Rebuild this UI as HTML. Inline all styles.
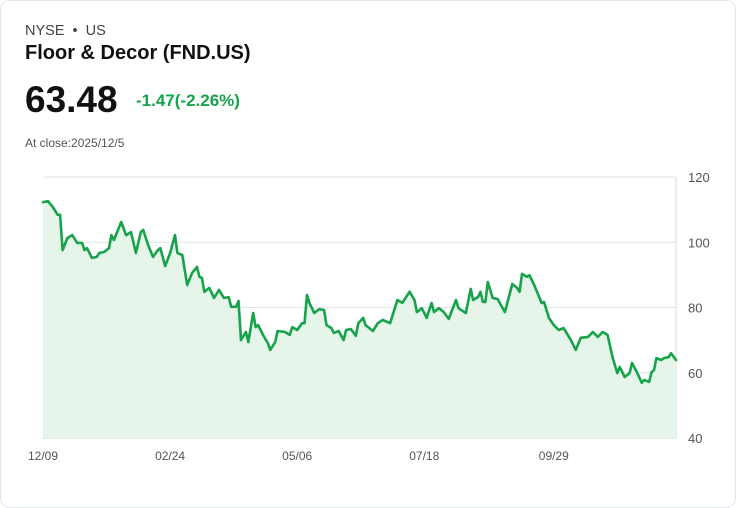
<!DOCTYPE html>
<html><head><meta charset="utf-8"><style>
body{margin:0;width:736px;height:508px;background:#fff;font-family:"Liberation Sans",sans-serif;}
.card{position:absolute;left:0;top:0;width:734px;height:506px;border:1px solid #e2e5ea;border-radius:10px;}
.t{position:absolute;white-space:nowrap;}
</style></head><body>
<div class="card"></div>
<div class="t" style="left:25px;top:23px;font-size:14.5px;color:#444">NYSE &nbsp;•&nbsp; US</div>
<div class="t" style="left:25px;top:42px;font-size:20px;font-weight:bold;color:#111">Floor &amp; Decor (FND.US)</div>
<div class="t" style="left:25px;top:79px;font-size:37px;font-weight:bold;color:#111">63.48</div>
<div class="t" style="left:136px;top:91px;font-size:17px;font-weight:bold;color:#16a34a">-1.47(-2.26%)</div>
<div class="t" style="left:25px;top:136px;font-size:12px;color:#555">At close:2025/12/5</div>
<svg id="chart" width="736" height="508" style="position:absolute;left:0;top:0"></svg>
<script>
const days=[0,2,4,6,7,8,10,12,14,16,17,18,20,22,23,25,27,28,29,32,34,36,38,40,41,43,45,47,48,50,52,54,55,57,59,61,63,64,65,66,68,70,72,74,76,77,79,80,81,83,84,86,87,88,90,92,93,95,96,99,101,102,104,106,107,108,109,111,113,115,116,118,119,121,123,124,126,128,129,131,132,133,135,137,139,142,145,147,150,152,153,155,157,159,160,162,164,166,169,170,173,175,176,178,179,180,181,182,184,186,189,192,194,195,196,198,199,201,204,205,207,209,211,213,216,218,220,223,225,227,229,231,233,235,236,238,240,241,243,245,246,248,249,250,251,253,254,256,257,259];
const prices=[112.3,112.6,110.8,108.4,108.4,97.6,101.3,102.2,99.8,99.8,97.6,98.2,95.2,95.5,96.7,97.0,98.2,102.2,100.7,106.2,102.2,103.1,96.7,103.1,103.8,99.2,95.5,97.6,98.2,92.7,96.7,102.2,96.7,96.1,86.9,90.6,92.4,89.4,89.1,84.8,86.0,82.9,85.4,82.9,83.2,80.2,80.2,82.0,70.0,72.5,69.4,78.3,74.0,74.6,71.6,69.1,67.0,69.4,72.8,72.5,71.6,74.0,73.1,75.2,75.2,83.8,81.4,78.3,79.5,79.2,74.6,73.7,72.2,72.8,70.0,73.1,73.4,71.3,75.2,76.8,74.6,74.0,72.8,75.2,76.2,75.2,82.3,81.4,84.8,82.3,78.6,79.8,76.8,81.4,78.6,79.8,78.6,76.5,82.3,79.8,78.3,85.7,82.3,83.2,84.8,81.7,81.7,87.8,82.9,82.6,78.6,87.2,86.0,84.8,90.3,89.4,89.9,86.9,81.4,81.7,76.8,74.6,73.1,73.7,70.0,67.0,70.7,71.0,72.5,71.0,72.5,71.6,64.8,59.9,61.8,58.7,59.9,63.0,60.2,56.9,57.8,57.2,60.2,60.8,64.5,63.9,64.5,64.8,66.0,63.9];
const yTicks=[40,60,80,100,120];
const xTickDays=[0,52,104,156,209];
const xTickLabels=["12/09","02/24","05/06","07/18","09/29"];
const X0=43,X1=676,Y0=438,Y1=177,DMAX=259,VMIN=40,VMAX=120;
const sx=d=>X0+(d/DMAX)*(X1-X0);
const sy=v=>Y0-(v-VMIN)/(VMAX-VMIN)*(Y0-Y1);
const svg=document.getElementById('chart');const NS='http://www.w3.org/2000/svg';
function mk(tag,attrs){const e=document.createElementNS(NS,tag);for(const k in attrs)e.setAttribute(k,attrs[k]);svg.appendChild(e);return e;}
yTicks.forEach(v=>{
 const l=mk('line',{x1:X0,x2:X1,y1:sy(v),y2:sy(v),stroke:v===40?'#d0d0d0':'#e4e4e4','stroke-width':1});
 
 
 const t=mk('text',{x:688,y:sy(v)+5,'font-size':13,fill:'#555','font-family':'Liberation Sans, sans-serif'});
 t.textContent=v;
 
 
});
const ax=mk('line',{x1:X1,x2:X1,y1:Y1,y2:Y0,stroke:'#d8d8d8','stroke-width':1});


xTickDays.forEach((d,i)=>{
 const t=mk('text',{x:sx(d),y:460,'font-size':12,fill:'#555','text-anchor':'middle','font-family':'Liberation Sans, sans-serif'});
 t.textContent=xTickLabels[i];
 
 
});
let pts=days.map((d,i)=>sx(d).toFixed(1)+','+sy(prices[i]).toFixed(1));
const area=mk('path',{d:'M'+sx(days[0])+','+Y0+' L'+pts.join(' L')+' L'+sx(days[days.length-1])+','+Y0+' Z',fill:'#e6f5ea'});


const line=mk('path',{d:'M'+pts.join(' L'),fill:'none',stroke:'#16a34a','stroke-width':2.6,'stroke-linejoin':'round','stroke-linecap':'round'});


</script>
</body></html>
